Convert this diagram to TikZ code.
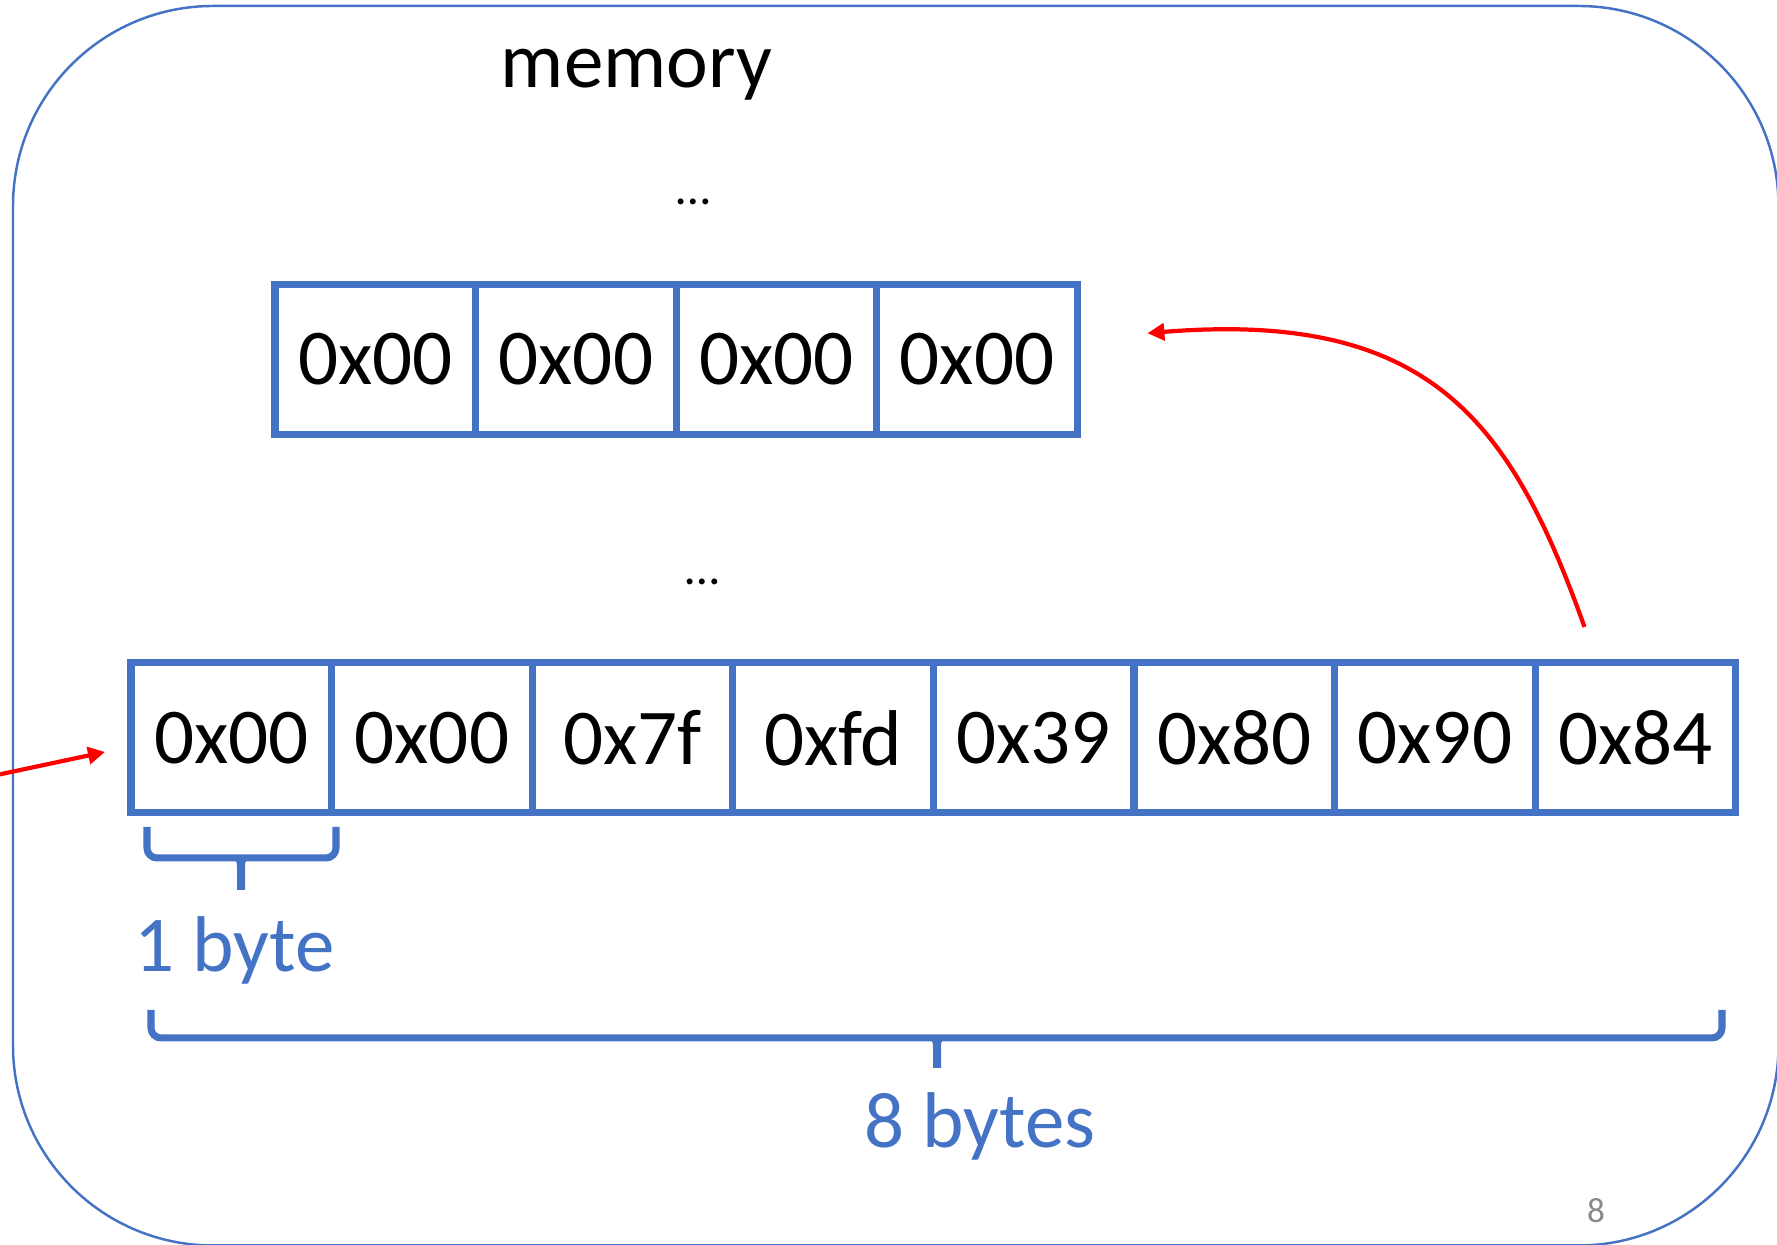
\documentclass[tikz,border=0pt]{standalone}
\usepackage{fontspec}
\setmainfont{Carlito}
\usetikzlibrary{arrows.meta,positioning}
\definecolor{boxblue}{RGB}{68,114,196}
\definecolor{pagegray}{RGB}{137,137,137}

\begin{document}
\begin{tikzpicture}[line width=1pt,>={Triangle[length=1.7mm,width=1.7mm]},
  bytecell/.style={draw=boxblue,line width=2pt,minimum width=2.006cm,minimum height=1.5cm,
    inner sep=0pt,outer sep=0pt,font=\fontsize{22.5}{27}\selectfont},
  bigtext/.style={font=\fontsize{22.5}{27}\selectfont,anchor=base},
  bytebrace/.style={draw=boxblue,line width=2pt,rounded corners=1mm},
  bracetip/.style={fill=boxblue},
  ptr/.style={->,red,line width=1.2pt}]
  \clip (0,0) rectangle (17.77,12.45);
  % --- marco ---
  \draw[boxblue,line width=0.7pt,rounded corners=2cm] (0.13,-0.005) rectangle (17.785,12.39);
  \node[bigtext] (mem) at (6.365,11.57) {memory};
  \node[font=\fontsize{14}{16}\selectfont] (dotsa) at (6.93,10.43) {…};
  \node[font=\fontsize{14}{16}\selectfont] (dotsb) at (7.02,6.63) {…};
  % --- fila de arriba ---
  \node[bytecell] (t1) at (3.753,8.8575) {0x00};
  \node[bytecell,right=0pt of t1] (t2) {0x00};
  \node[bytecell,right=0pt of t2] (t3) {0x00};
  \node[bytecell,right=0pt of t3] (t4) {0x00};
  % --- fila de abajo (8 bytes) ---
  \node[bytecell] (b1) at (2.313,5.07) {0x00};
  \node[bytecell,right=0pt of b1] (b2) {0x00};
  \node[bytecell,right=0pt of b2] (b3) {0x7f};
  \node[bytecell,right=0pt of b3] (b4) {0xfd};
  \node[bytecell,right=0pt of b4] (b5) {0x39};
  \node[bytecell,right=0pt of b5] (b6) {0x80};
  \node[bytecell,right=0pt of b6] (b7) {0x90};
  \node[bytecell,right=0pt of b7] (b8) {0x84};
  % --- llaves ---
  \draw[bytebrace] (1.47,4.18) -- (1.47,3.87) -- (3.36,3.87) -- (3.36,4.18);
  \fill[bracetip] (2.31,3.87) .. controls (2.36,3.87) and (2.37,3.84) .. (2.37,3.77) -- (2.37,3.55)
    -- (2.45,3.55) -- (2.45,3.77) .. controls (2.45,3.84) and (2.46,3.87) .. (2.51,3.87) -- cycle;
  \node[bigtext,text=boxblue] (onebyte) at (2.345,2.73) {1 byte};
  \draw[bytebrace] (1.51,2.35) -- (1.51,2.07) -- (17.22,2.07) -- (17.22,2.35);
  \fill[bracetip] (9.27,2.07) .. controls (9.32,2.07) and (9.33,2.04) .. (9.33,1.97) -- (9.33,1.77)
    -- (9.41,1.77) -- (9.41,1.97) .. controls (9.41,2.04) and (9.42,2.07) .. (9.47,2.07) -- cycle;
  \node[bigtext,text=boxblue] (eightbytes) at (9.80,0.97) {8 bytes};
  % --- punteros ---
  \coordinate (src) at (-0.5,4.60);
  \draw[ptr] (src) -- ([xshift=-2.6mm,yshift=-1.4mm]b1.west);
  \draw[ptr] ([xshift=-5.1mm,yshift=3.6mm]b8.north) .. controls +(-0.74,2.07) and +(2.82,0.23)
    .. ([xshift=7mm,yshift=2.6mm]t4.east);
  \node[font=\fontsize{10}{12}\selectfont,text=pagegray] (pagenum) at (15.96,0.34) {8};
\end{tikzpicture}
\end{document}
